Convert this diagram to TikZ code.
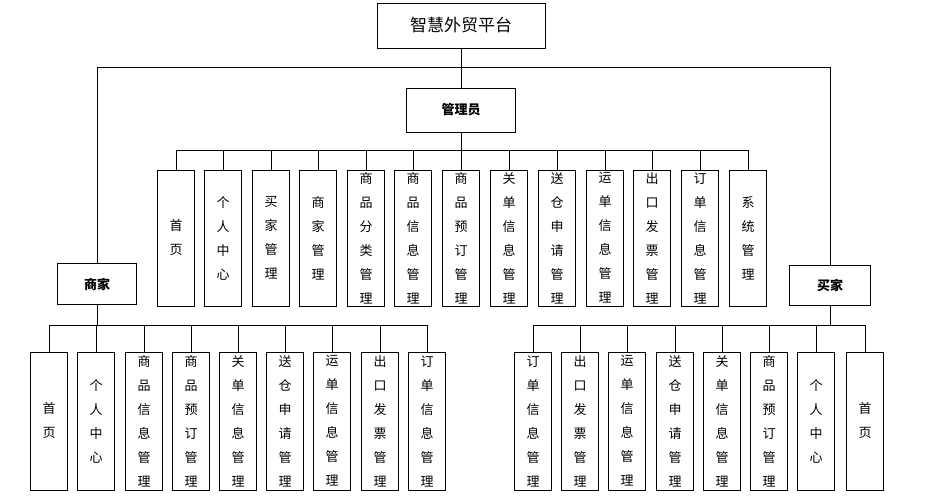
\documentclass[tikz,border=0pt]{standalone}
\usepackage{fontspec}
\setmainfont{Noto Sans CJK SC}
\begin{document}
\begin{tikzpicture}[x=1pt,y=-1pt,
  box/.style={draw,line width=0.8pt,minimum width=37pt,minimum height=#1,inner sep=0pt,align=center,font=\fontsize{13}{24}\selectfont},
  hbox/.style={draw,line width=0.8pt,inner sep=0pt,font=\fontsize{13}{16}\selectfont\bfseries},
  ln/.style={line width=0.8pt}]
\useasboundingbox (0,0) rectangle (925,500);
\node[hbox,minimum width=168pt,minimum height=45pt,font=\fontsize{17}{20}\selectfont] (top) at (461,25.5) {智慧外贸平台};
\node[hbox,minimum width=109pt,minimum height=44pt] (adm) at (461,110) {管理员};
\node[hbox,minimum width=79pt,minimum height=41pt] (mer) at (97,284) {商家};
\node[hbox,minimum width=81pt,minimum height=40pt] (buy) at (830,285) {买家};
\coordinate (tl) at (97,67); \coordinate (tr) at (830,67); \coordinate (tm) at (461,67);
\draw[ln] (top.south) -- (adm.north);
\draw[ln] (mer.north) -- (tl) -- (tr) -- (buy.north);
% admin children
\foreach \i/\x/\t in {1/176/首\\页,2/223/个\\人\\中\\心,3/271/买\\家\\管\\理,4/318/商\\家\\管\\理,5/366/商\\品\\分\\类\\管\\理,6/413/商\\品\\信\\息\\管\\理,7/461/商\\品\\预\\订\\管\\理,8/509/关\\单\\信\\息\\管\\理,9/557/送\\仓\\申\\请\\管\\理,10/605/运\\单\\信\\息\\管\\理,10/652/出\\口\\发\\票\\管\\理,12/700/订\\单\\信\\息\\管\\理,13/748/系\\统\\管\\理}{
  \node[box=136pt] (a\x) at (\x,238) {\t};
  \coordinate (ab\x) at (\x,150);
  \draw[ln] (ab\x) -- (a\x.north);
}
\draw[ln] (adm.south) -- (461,150);
\draw[ln] (ab176) -- (ab748);
% merchant children
\foreach \x/\t in {49/首\\页,96/个\\人\\中\\心,144/商\\品\\信\\息\\管\\理,191/商\\品\\预\\订\\管\\理,238/关\\单\\信\\息\\管\\理,285/送\\仓\\申\\请\\管\\理,332/运\\单\\信\\息\\管\\理,380/出\\口\\发\\票\\管\\理,427/订\\单\\信\\息\\管\\理}{
  \node[box=138pt] (m\x) at (\x,421) {\t};
  \coordinate (mb\x) at (\x,325);
  \draw[ln] (mb\x) -- (m\x.north);
}
\draw[ln] (mer.south) -- (97,325);
\draw[ln] (mb49) -- (mb427);
% buyer children
\foreach \x/\t in {533/订\\单\\信\\息\\管\\理,580/出\\口\\发\\票\\管\\理,627/运\\单\\信\\息\\管\\理,675/送\\仓\\申\\请\\管\\理,722/关\\单\\信\\息\\管\\理,769/商\\品\\预\\订\\管\\理,816/个\\人\\中\\心,865/首\\页}{
  \node[box=138pt] (b\x) at (\x,421) {\t};
  \coordinate (bb\x) at (\x,325);
  \draw[ln] (bb\x) -- (b\x.north);
}
\draw[ln] (buy.south) -- (830,325);
\draw[ln] (bb533) -- (bb865);
\end{tikzpicture}
\end{document}
